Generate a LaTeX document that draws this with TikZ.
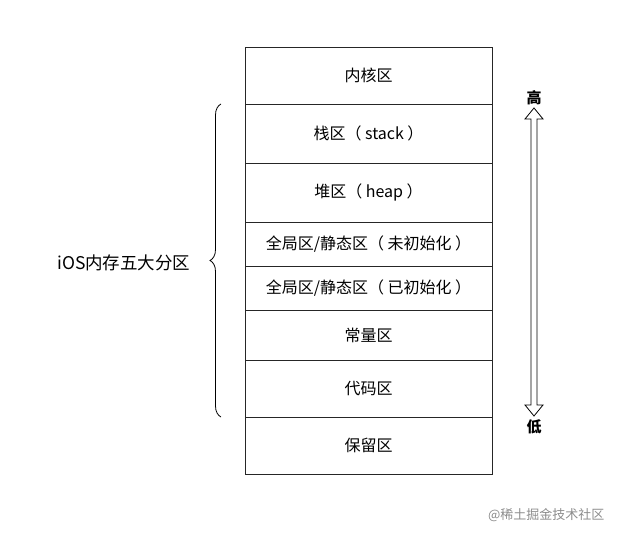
\documentclass[tikz,border=0pt]{standalone}
\usepackage{fontspec}
\setmainfont{Noto Sans CJK SC}
\usetikzlibrary{decorations.pathreplacing}
\begin{document}
\begin{tikzpicture}[x=1pt,y=-1pt,font=\fontsize{16}{18}\selectfont,
  cell/.style={draw=black!85,line width=0.8pt}]
\useasboundingbox (0,0) rectangle (622,537);
\def\L{245}\def\R{492}
\foreach \a/\b/\t [count=\i] in {47/104/{内核区},104/163/{栈区（ stack ）},163/222/{堆区（ heap ）},222/266/{全局区{/}静态区（ 未初始化 ）},266/310/{全局区{/}静态区（ 已初始化 ）},310/360/{常量区},360/417/{代码区},417/474/{保留区}}{
  \draw[cell] (\L,\a) rectangle (\R,\b);
  \node (c\i) at ({(\L+\R)/2},{(\a+\b)/2}) {\t};
}
\draw[line width=0.8pt,decorate,decoration={brace,amplitude=11pt,mirror}] (221,104) -- (221,417);
\node[anchor=east,font=\fontsize{17.5}{19}\selectfont] (lab) at (194,263) {iOS内存五大分区};
\node[font=\fontsize{15}{16}\selectfont\bfseries] (hi) at (534,98) {高};
\node[font=\fontsize{15}{16}\selectfont\bfseries] (lo) at (534,427) {低};
\draw[line width=0.8pt] (534,108) -- (543,119) -- (537,119) -- (537,405) -- (543,405) -- (534,416) -- (525,405) -- (531,405) -- (531,119) -- (525,119) -- cycle;
\node[text=black!45,font=\fontsize{13}{14}\selectfont,anchor=east] (wm) at (608,515) {@稀土掘金技术社区};
\end{tikzpicture}
\end{document}
